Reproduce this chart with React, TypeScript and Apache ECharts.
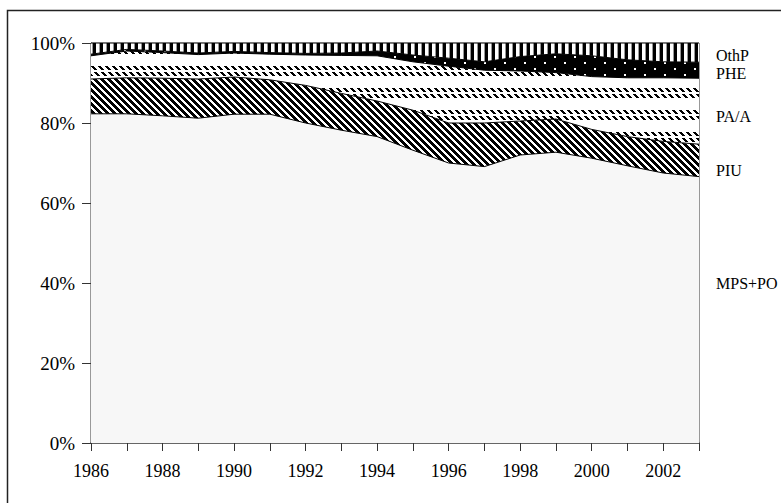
import React, { useEffect, useRef } from "react";
import * as echarts from "echarts";

const years = ["1986","1987","1988","1989","1990","1991","1992","1993","1994","1995","1996","1997","1998","1999","2000","2001","2002","2003"];
const mpsPo = [82.3, 82.3, 81.8, 81.2, 82.2, 82.2, 80.0, 78.2, 76.6, 73.2, 70.0, 69.1, 72.0, 72.7, 71.2, 69.3, 67.5, 66.6];
const piu = [8.7, 9.0, 9.4, 9.8, 9.3, 8.6, 9.4, 9.2, 8.9, 10.0, 10.0, 10.9, 8.5, 8.3, 7.2, 7.3, 7.9, 8.1];
const paA = [5.8, 6.7, 6.4, 6.1, 6.0, 6.4, 7.6, 9.5, 11.3, 12.1, 14.2, 13.2, 12.5, 11.6, 13.2, 14.7, 15.9, 16.5];
const phe = [0.4, 0.4, 0.4, 0.4, 0.4, 0.4, 0.4, 0.6, 1.2, 1.7, 2.0, 2.1, 3.6, 4.7, 5.2, 4.5, 4.0, 4.0];
const othP = [2.8, 1.6, 2.0, 2.5, 2.1, 2.4, 2.6, 2.5, 2.0, 3.0, 3.8, 4.7, 3.4, 2.7, 3.2, 4.2, 4.7, 4.8];
const seriesNames = ["MPS+PO", "PIU", "PA/A", "PHE", "OthP"];
const yTicks = [0, 20, 40, 60, 80, 100];

const FONT = "'Liberation Serif', 'Times New Roman', 'DejaVu Serif', serif";

function makeTile(w: number, h: number, bg: string, draw: (ctx: CanvasRenderingContext2D) => void) {
  const c = document.createElement("canvas");
  c.width = w;
  c.height = h;
  const ctx = c.getContext("2d")!;
  ctx.fillStyle = bg;
  ctx.fillRect(0, 0, w, h);
  draw(ctx);
  return { image: c.toDataURL(), repeat: "repeat", imageWidth: w, imageHeight: h } as any;
}

export default function App() {
  const ref = useRef<HTMLDivElement>(null);
  useEffect(() => {
    if (!ref.current) return;
    const chart = echarts.init(ref.current, null, { renderer: "svg" });

    // PIU: bold "\" diagonal stripes
    const piuPat = makeTile(7, 7, "#ffffff", (ctx) => {
      ctx.fillStyle = "#000";
      for (let y = 0; y < 7; y++) for (let x = 0; x < 7; x++) {
        if ((((x - y) % 7) + 7) % 7 < 4) ctx.fillRect(x, y, 1, 1);
      }
    });
    // PA/A: rows of small bold diagonal dashes
    const paaPat = makeTile(7, 22, "#ffffff", (ctx) => {
      ctx.fillStyle = "#000";
      const rows = [0, 6];
      rows.forEach((r, i) => {
        for (let k = 0; k < 4; k++) {
          for (let j = 0; j < 3; j++) {
            const x = (k + j + i * 3) % 7;
            ctx.fillRect(x, r + k, 1, 1);
          }
        }
      });
    });
    // PHE: black with white dots
    const phePat = makeTile(20, 12, "#000000", (ctx) => {
      ctx.fillStyle = "#fff";
      ctx.fillRect(4, 2, 2, 2);
      ctx.fillRect(14, 8, 2, 2);
    });
    // OthP: vertical bars
    const othPat = makeTile(7, 4, "#ffffff", (ctx) => {
      ctx.fillStyle = "#000";
      ctx.fillRect(2, 0, 3, 4);
      ctx.fillStyle = "#999";
      ctx.fillRect(1, 0, 1, 4);
    });

    const fills = ["#f7f7f7", piuPat, paaPat, phePat, othPat];
    const datas = [mpsPo, piu, paA, phe, othP];

    chart.setOption({
      animation: false,
      backgroundColor: "#ffffff",
      grid: { left: 91, right: 82, top: 43, bottom: 60, show: true, borderColor: "#333", borderWidth: 1, backgroundColor: "transparent" },
      xAxis: {
        type: "category",
        data: years,
        boundaryGap: false,
        axisLine: { lineStyle: { color: "#666", width: 2 } },
        axisTick: { show: true, interval: 0, length: 8, lineStyle: { color: "#333" } },
        axisLabel: { interval: 1, margin: 19, fontFamily: FONT, fontSize: 18, color: "#000" },
        splitLine: { show: false },
      },
      yAxis: {
        type: "value",
        min: yTicks[0],
        max: yTicks[yTicks.length - 1],
        interval: 20,
        axisLine: { show: true, lineStyle: { color: "#333", width: 1 } },
        axisTick: { show: true, length: 9, lineStyle: { color: "#333" } },
        axisLabel: { formatter: "{value}%", margin: 16, fontFamily: FONT, fontSize: 19, color: "#000" },
        splitLine: { show: false },
      },
      series: datas.map((d, i) => ({
        name: seriesNames[i],
        type: "line",
        stack: "total",
        data: d,
        symbol: "none",
        lineStyle: { color: "#000", width: 1 },
        areaStyle: { color: fills[i], opacity: 1 },
        z: 2,
      })),
      graphic: [
        { type: "rect", shape: { x: 7.5, y: 10.5, width: 900, height: 700 }, style: { fill: "none", stroke: "#222", lineWidth: 1.5 }, silent: true },
        { type: "text", x: 716, y: 55, style: { text: "OthP", font: `16px ${FONT}`, fill: "#000", textVerticalAlign: "middle" } },
        { type: "text", x: 716, y: 73, style: { text: "PHE", font: `16px ${FONT}`, fill: "#000", textVerticalAlign: "middle" } },
        { type: "text", x: 716, y: 116, style: { text: "PA/A", font: `16px ${FONT}`, fill: "#000", textVerticalAlign: "middle" } },
        { type: "text", x: 716, y: 170, style: { text: "PIU", font: `16px ${FONT}`, fill: "#000", textVerticalAlign: "middle" } },
        { type: "text", x: 716, y: 283, style: { text: "MPS+PO", font: `16px ${FONT}`, fill: "#000", textVerticalAlign: "middle" } },
      ],
    });
    return () => chart.dispose();
  }, []);
  return <div ref={ref} style={{ position: "fixed", left: 0, top: 0, width: 781, height: 503, background: "#fff" }} />;
}
